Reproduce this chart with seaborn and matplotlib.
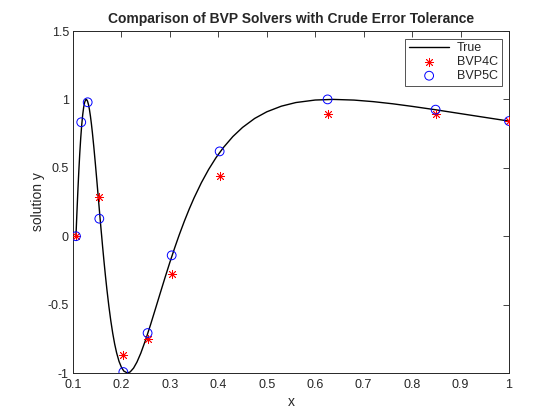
import matplotlib
matplotlib.use("Agg")
import matplotlib.pyplot as plt
import seaborn as sns
import pandas as pd

# True solution curve
true_x = [0.1061, 0.108, 0.110, 0.112, 0.114, 0.116, 0.118, 0.120, 0.122, 0.124, 0.126, 0.1273,
          0.128, 0.130, 0.132, 0.134, 0.136, 0.138, 0.140, 0.143, 0.146, 0.149, 0.152, 0.155,
          0.158, 0.1592, 0.161, 0.164, 0.167, 0.170, 0.174, 0.178, 0.182, 0.186, 0.190, 0.195,
          0.200, 0.205, 0.2122, 0.218, 0.225, 0.232, 0.240, 0.250, 0.260, 0.270, 0.280, 0.290,
          0.300, 0.310, 0.3183, 0.320, 0.330, 0.340, 0.350, 0.365, 0.380, 0.395, 0.410, 0.430,
          0.450, 0.475, 0.500, 0.530, 0.560, 0.600, 0.6366, 0.680, 0.720, 0.760, 0.800, 0.850,
          0.900, 0.950, 1.000]
true_y = [0.0, 0.1647, 0.3277, 0.4761, 0.6076, 0.7201, 0.8137, 0.8870, 0.9418, 0.9780, 0.9966, 1.0,
          0.9991, 0.9870, 0.9616, 0.9244, 0.8771, 0.8210, 0.7577, 0.6518, 0.5361, 0.4155, 0.2913, 0.1675,
          0.0459, 0.0, -0.0719, -0.1845, -0.2909, -0.3902, -0.5108, -0.6172, -0.7094, -0.7879, -0.8521, -0.9148,
          -0.9589, -0.9862, -1.0, -0.9922, -0.9643, -0.9202, -0.8548, -0.7568, -0.6477, -0.5328, -0.4169, -0.3020,
          -0.1903, -0.0841, 0.0, 0.0166, 0.1111, 0.1991, 0.2807, 0.3912, 0.4882, 0.5729, 0.6462, 0.7285,
          0.7952, 0.8608, 0.9093, 0.9504, 0.9770, 0.9954, 1.0, 0.9950, 0.9836, 0.9679, 0.9490, 0.9234,
          0.8960, 0.8687, 0.8415]

# BVP4C solution
bvp4c_x = [0.1061, 0.1535, 0.2035, 0.254, 0.304, 0.4035, 0.6255, 0.8485, 1.0]
bvp4c_y = [0.0, 0.284, -0.866, -0.752, -0.279, 0.438, 0.896, 0.895, 0.842]

# BVP5C solution
bvp5c_x = [0.1061, 0.117, 0.1303, 0.1543, 0.2039, 0.254, 0.3037, 0.4027, 0.6255, 0.8485, 1.0]
bvp5c_y = [0.0, 0.833, 0.979, 0.128, -0.993, -0.708, -0.14, 0.62, 1.0, 0.925, 0.842]

x_ticks = [0.1, 0.2, 0.3, 0.4, 0.5, 0.6, 0.7, 0.8, 0.9, 1.0]
x_tick_labels = ["0.1", "0.2", "0.3", "0.4", "0.5", "0.6", "0.7", "0.8", "0.9", "1"]
y_ticks = [-1, -0.5, 0, 0.5, 1, 1.5]
y_tick_labels = ["-1", "-0.5", "0", "0.5", "1", "1.5"]

sns.set_style("white")
plt.rcParams['font.family'] = ['Liberation Sans', 'DejaVu Sans']

fig = plt.figure(figsize=(5.6, 4.2), dpi=100)
ax = fig.add_axes([73/560, 47/420, 436/560, 342/420])

df_true = pd.DataFrame({"x": true_x, "y": true_y})
df4 = pd.DataFrame({"x": bvp4c_x, "y": bvp4c_y})
df5 = pd.DataFrame({"x": bvp5c_x, "y": bvp5c_y})

sns.lineplot(data=df_true, x="x", y="y", ax=ax, color="black", linewidth=1.0,
             label="True", sort=False, estimator=None)
sns.scatterplot(data=df4, x="x", y="y", ax=ax, marker=(8, 2, 0), color="red",
                edgecolor="red", linewidth=0.6, s=36, label="BVP4C", zorder=3)
sns.scatterplot(data=df5, x="x", y="y", ax=ax, marker="o", facecolor="none",
                edgecolor="blue", linewidth=0.7, s=40, label="BVP5C", zorder=3)

ax.set_xlim(0.1, 1.0)
ax.set_ylim(-1, 1.5)
ax.set_xticks(x_ticks)
ax.set_xticklabels(x_tick_labels)
ax.set_yticks(y_ticks)
ax.set_yticklabels(y_tick_labels)
ax.tick_params(direction="in", top=True, right=True, length=4, width=0.6,
               labelsize=9, colors="#262626")
ax.tick_params(axis="x", pad=4)
ax.tick_params(axis="y", pad=3)
for sp in ax.spines.values():
    sp.set_visible(True)
    sp.set_color("#262626")
    sp.set_linewidth(0.7)

ax.set_xlabel("x", fontsize=10, color="#262626", labelpad=3)
ax.set_ylabel("solution y", fontsize=10, color="#262626", labelpad=2)
ax.set_title("Comparison of BVP Solvers with Crude Error Tolerance",
             fontsize=10, fontweight="bold", pad=6)

leg = ax.legend(loc="upper right", fontsize=9, frameon=True, fancybox=False,
                borderpad=0.3, labelspacing=0.15, handlelength=3.2, handletextpad=0.6,
                borderaxespad=0.6)
leg.get_frame().set_edgecolor("#262626")
leg.get_frame().set_linewidth(0.7)

fig.savefig("out.png", dpi=100)
